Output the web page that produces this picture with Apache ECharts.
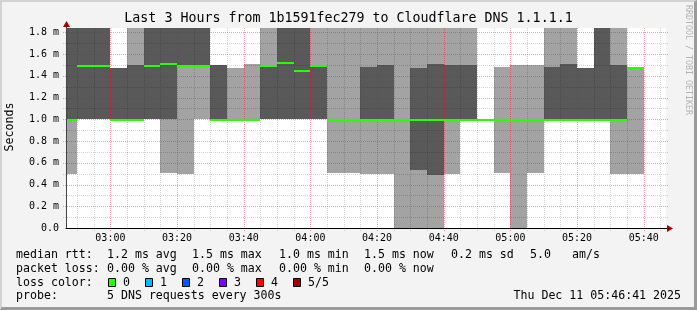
<!DOCTYPE html>
<html><head><meta charset="utf-8">
<script src="https://cdn.jsdelivr.net/npm/echarts@6/dist/echarts.min.js"></script>
<style>
html,body{margin:0;padding:0;background:#f3f3f3;}
#c{position:absolute;left:0;top:0;width:697px;height:310px;}
#frame{position:absolute;left:0;top:0;width:697px;height:310px;box-sizing:border-box;border-top:2px solid #d2d2d2;border-left:2px solid #d2d2d2;border-right:3px solid #9a9a9a;border-bottom:3px solid #9a9a9a;pointer-events:none;}
</style></head><body>
<div id="c"></div><div id="frame"></div>
<script>
// ---- data ----
const stepEnd = ['02:50','02:55','03:00','03:05','03:10','03:15','03:20','03:25','03:30','03:35','03:40','03:45','03:50','03:55',
  '04:00','04:05','04:10','04:15','04:20','04:25','04:30','04:35','04:40','04:45','04:50','04:55',
  '05:00','05:05','05:10','05:15','05:20','05:25','05:30','05:35','05:40'];
// sorted ping values per 5-min step (ms); values above the chart top are clipped
const pingMin  = [0.50,1.00,1.00,1.00,1.00,1.00,0.51,0.50,1.00,1.00,1.00,1.00,1.00,1.00,1.00,1.00,0.51,0.51,0.50,0.50,0.00,0.00,0.00,0.50,1.00,1.00,0.51,0.00,0.51,1.00,1.00,1.00,1.00,0.50,0.50];
const pingLow  = [1.00,1.00,1.00,1.00,1.00,1.00,1.00,1.50,1.50,1.00,1.00,1.00,1.00,1.00,1.00,1.00,1.00,1.00,1.00,1.00,1.00,0.53,0.49,1.00,1.00,1.00,1.00,1.00,1.00,1.00,1.00,1.00,1.00,1.00,1.48];
const median   = [1.00,1.50,1.50,1.00,1.00,1.50,1.515,1.50,1.50,1.00,1.00,1.00,1.50,1.53,1.455,1.50,1.00,1.00,1.00,1.00,1.00,1.00,1.00,1.00,1.00,1.00,1.00,1.00,1.00,1.00,1.00,1.00,1.00,1.00,1.48];
const pingHigh = [2.0,2.0,2.0,1.475,1.50,2.0,2.0,2.0,2.0,1.50,1.00,1.00,1.50,2.0,2.0,1.50,1.00,1.00,1.48,1.50,1.00,1.47,1.51,1.50,1.50,1.00,1.00,1.00,1.00,1.48,1.51,1.475,2.0,1.50,1.48];
const pingMax  = [2.0,2.0,2.0,1.475,2.0,2.0,2.0,2.0,2.0,1.50,1.475,1.51,2.0,2.0,2.0,2.0,2.0,2.0,2.0,2.0,2.0,2.0,2.0,2.0,2.0,1.00,1.48,1.50,1.50,2.0,2.0,1.475,2.0,2.0,1.48];

const xTickLabels = ['03:00','03:20','03:40','04:00','04:20','04:40','05:00','05:20','05:40'];
const xMinorTicks = ['02:50','02:55','03:05','03:10','03:15','03:25','03:30','03:35','03:45','03:50','03:55','04:05','04:10','04:15',
  '04:25','04:30','04:35','04:45','04:50','04:55','05:05','05:10','05:15','05:25','05:30','05:35','05:45'];
const yTicks = [0,0.2,0.4,0.6,0.8,1.0,1.2,1.4,1.6,1.8];
const yMinorTicks = [0.1,0.3,0.5,0.7,0.9,1.1,1.3,1.5,1.7];

const titleText = 'Last 3 Hours from 1b1591fec279 to Cloudflare DNS 1.1.1.1';
const statsRtt  = ['median rtt:','1.2 ms avg','1.5 ms max','1.0 ms min','1.5 ms now','0.2 ms sd','5.0','am/s'];
const statsLoss = ['packet loss:','0.00 % avg','0.00 % max','0.00 % min','0.00 % now'];
const lossLabels = ['0','1','2','3','4','5/5'];
const lossColors = ['#26ff00','#00b8ff','#0059ff','#7e00ff','#ff0000','#a10000'];
const probeText = ['probe:','5 DNS requests every 300s'];
const dateText = 'Thu Dec 11 05:46:41 2025';

// ---- helpers ----
const toMin = s => { const p = s.split(':').map(Number); return p[0]*60 + p[1]; };
const axisStart = toMin('02:46') + 41/60;
const axisEnd = toMin('05:46') + 41/60;
const fmt = v => { const h = Math.floor(v/60), m = Math.round(v - h*60); return String(h).padStart(2,'0')+':'+String(m).padStart(2,'0'); };

const smokeData = stepEnd.map((t,i) => [toMin(t), pingMin[i], pingLow[i], median[i], pingHigh[i], pingMax[i]]);
const gridData = []
  .concat(xMinorTicks.map(t => [0, toMin(t), 0]))
  .concat(xTickLabels.map(t => [0, toMin(t), 1]))
  .concat(yMinorTicks.map(v => [1, v, 0]))
  .concat(yTicks.filter(v => v > 0).map(v => [1, v, 1]));

const MONO = 'DejaVu Sans Mono';
const chart = echarts.init(document.getElementById('c'), null, {renderer:'canvas'});

function rectFrom(api, cs, x0v, x1v, hi, lo) {
  const p0 = api.coord([x0v, hi]), p1 = api.coord([x1v, lo]);
  let x0 = Math.max(Math.round(p0[0]), cs.x), x1 = Math.min(Math.round(p1[0]), cs.x + cs.width);
  let y0 = Math.max(Math.round(p0[1]), cs.y), y1 = Math.min(Math.round(p1[1]), cs.y + cs.height);
  if (x1 <= x0 || y1 <= y0) return null;
  return {x:x0, y:y0, width:x1-x0, height:y1-y0};
}

const stats = [];
const statX = [16,107,192,279,364,451,530,572];
statsRtt.forEach((s,i) => stats.push({type:'text', x:statX[i], y:254.5, style:{text:s, font:'11.6px "'+MONO+'"', fill:'#000', verticalAlign:'middle'}}));
statsLoss.forEach((s,i) => stats.push({type:'text', x:statX[i], y:268.5, style:{text:s, font:'11.6px "'+MONO+'"', fill:'#000', verticalAlign:'middle'}}));
stats.push({type:'text', x:16, y:282.5, style:{text:'loss color:', font:'11.6px "'+MONO+'"', fill:'#000', verticalAlign:'middle'}});
lossLabels.forEach((s,i) => {
  const bx = 108 + i*37;
  stats.push({type:'rect', shape:{x:bx+0.5, y:278.5, width:7, height:8}, style:{fill:lossColors[i], stroke:'#000', lineWidth:1}});
  stats.push({type:'text', x:bx+15, y:282.5, style:{text:s, font:'11.6px "'+MONO+'"', fill:'#000', verticalAlign:'middle'}});
});
stats.push({type:'text', x:16, y:296, style:{text:probeText[0], font:'11.6px "'+MONO+'"', fill:'#000', verticalAlign:'middle'}});
stats.push({type:'text', x:107, y:296, style:{text:probeText[1], font:'11.6px "'+MONO+'"', fill:'#000', verticalAlign:'middle'}});
stats.push({type:'text', x:681, y:296, style:{text:dateText, font:'11.6px "'+MONO+'"', fill:'#000', verticalAlign:'middle', align:'right'}});

chart.setOption({
  animation:false,
  backgroundColor:'#f3f3f3',
  textStyle:{fontFamily:MONO},
  grid:{left:66, top:28, width:600, height:200, show:true, backgroundColor:'#ffffff', borderWidth:0},
  xAxis:{
    type:'value', min:axisStart, max:axisEnd, z:5,
    axisLine:{show:true, lineStyle:{color:'#000', width:1}},
    axisTick:{show:false},
    splitLine:{show:false},
    axisLabel:{customValues:xTickLabels.map(toMin), formatter:v => fmt(v), color:'#000', fontSize:10, fontFamily:MONO, margin:5}
  },
  yAxis:{
    type:'value', min:0, max:1.84, interval:0.2, z:5,
    axisLine:{show:true, lineStyle:{color:'#444', width:1}},
    axisTick:{show:false},
    splitLine:{show:false},
    axisLabel:{customValues:yTicks, formatter:v => v === 0 ? '0.0' : v.toFixed(1)+' m', color:'#000', fontSize:10, fontFamily:MONO, margin:7}
  },
  series:[
    {
      type:'custom', z:2, data:smokeData, silent:true,
      renderItem:(params, api) => {
        const cs = params.coordSys, end = api.value(0), start = end - 5;
        const children = [];
        const outer = rectFrom(api, cs, start, end, api.value(5), api.value(1));
        if (outer) children.push({type:'rect', shape:outer, style:{fill:'#a3a3a3'}});
        const inner = rectFrom(api, cs, start, end, api.value(4), api.value(2));
        if (inner) children.push({type:'rect', shape:inner, style:{fill:'#595959'}});
        return {type:'group', children};
      }
    },
    {
      type:'custom', z:3, data:gridData, silent:true,
      renderItem:(params, api) => {
        const cs = params.coordSys, orient = api.value(0), v = api.value(1), major = api.value(2);
        const color = major ? 'rgba(255,0,0,0.38)' : 'rgba(0,0,0,0.17)';
        let shape;
        if (orient === 0) {
          const x = Math.round(api.coord([v, 0])[0]) + 0.5;
          shape = {x1:x, y1:cs.y, x2:x, y2:cs.y + cs.height + 3};
        } else {
          const y = Math.round(api.coord([axisStart, v])[1]) + 0.5;
          shape = {x1:cs.x - 3, y1:y, x2:cs.x + cs.width + 2, y2:y};
        }
        return {type:'line', shape, style:{stroke:color, lineWidth:1, lineDash:[1,1]}};
      }
    },
    {
      type:'custom', z:4, data:smokeData, silent:true,
      renderItem:(params, api) => {
        const cs = params.coordSys, end = api.value(0), start = end - 5;
        const p0 = api.coord([start, api.value(3)]), p1 = api.coord([end, api.value(3)]);
        const x0 = Math.max(Math.round(p0[0]), cs.x), x1 = Math.min(Math.round(p1[0]), cs.x + cs.width);
        const y = Math.round(p0[1]);
        return {type:'rect', shape:{x:x0, y:y, width:x1-x0, height:2}, style:{fill:'#26ff00'}};
      }
    }
  ],
  graphic:{elements:[
    {type:'text', x:348.5, y:19, style:{text:titleText, font:'13.3px "'+MONO+'"', fill:'#000', align:'center', verticalAlign:'middle'}},
    {type:'text', x:10, y:127, rotation:Math.PI/2, style:{text:'Seconds', font:'11.6px "'+MONO+'"', fill:'#000', align:'center', verticalAlign:'middle'}},
    {type:'text', x:688, y:60, rotation:-Math.PI/2, style:{text:'RRDTOOL / TOBI OETIKER', font:'8.3px "'+MONO+'"', fill:'#b4b4b4', align:'center', verticalAlign:'middle'}},
    {type:'line', shape:{x1:666, y1:228.5, x2:669, y2:228.5}, style:{stroke:'#000', lineWidth:1}, z:10},
    {type:'polygon', shape:{points:[[667,225],[673,228.5],[667,232]]}, style:{fill:'#a00000'}, z:10},
    {type:'line', shape:{x1:66.5, y1:28, x2:66.5, y2:25}, style:{stroke:'#444', lineWidth:1}, z:10},
    {type:'polygon', shape:{points:[[63,27],[66.5,21],[70,27]]}, style:{fill:'#a00000'}, z:10}
  ].concat(stats)}
});
</script>
</body></html>
